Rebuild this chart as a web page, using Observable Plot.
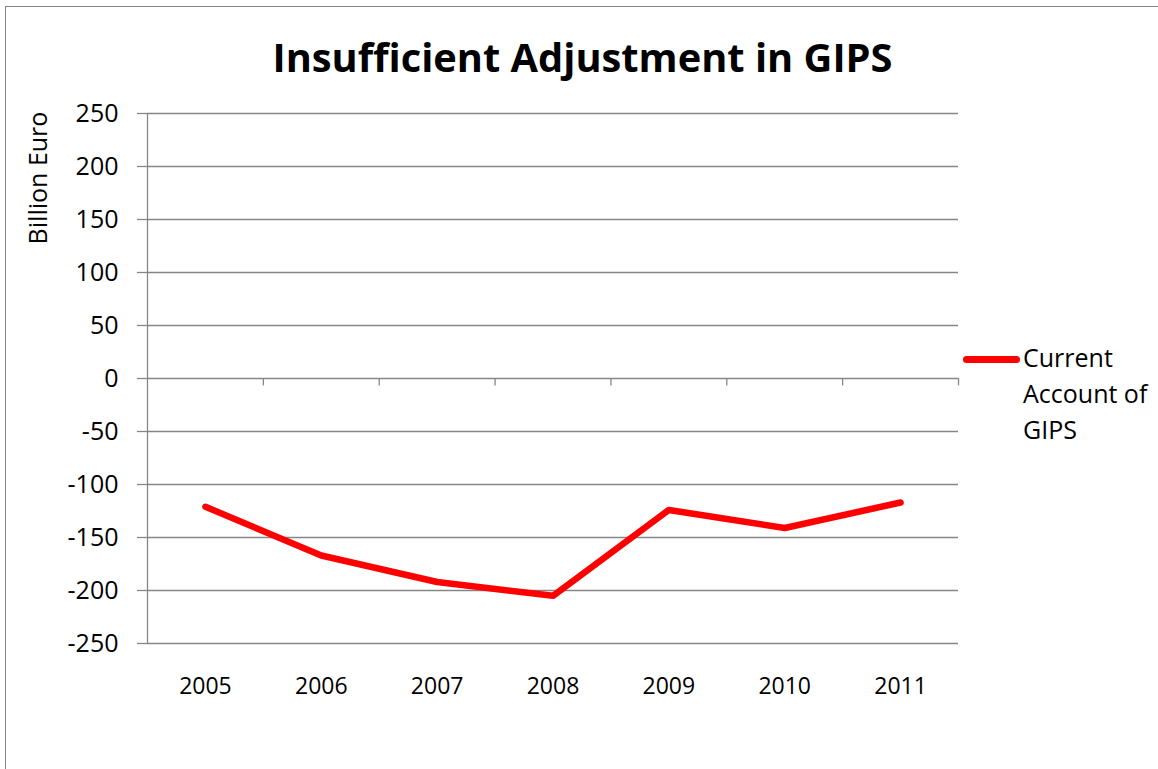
<!DOCTYPE html>
<html>
<head>
<meta charset="utf-8">
<script src="https://cdn.jsdelivr.net/npm/d3@7"></script>
<script src="https://cdn.jsdelivr.net/npm/@observablehq/plot@0.6"></script>
<style>
  html, body { margin: 0; padding: 0; background: #fff; overflow: hidden; }
  #wrap { position: relative; width: 1158px; height: 769px; overflow: hidden; font-family: "Open Sans", sans-serif; }
  #frame { position: absolute; left: 5px; top: 6px; width: 1200px; height: 800px; border: 1.3px solid #868686; box-sizing: border-box; }
  #title { position: absolute; left: 0; width: 1165px; top: 37px; text-align: center; font-size: 39.8px; line-height: 39px; font-weight: bold; color: #000; }
  #ylabel { position: absolute; left: 37px; top: 178px; transform: translate(-50%, -50%) rotate(-90deg); font-size: 25px; line-height: 25px; white-space: nowrap; color: #000; }
  #legend { position: absolute; left: 963px; top: 339px; }
  #legend .sw { position: absolute; left: 0; top: 17px; width: 57px; height: 7px; border-radius: 4px; background: #ff0000; }
  #legend .tx { position: absolute; left: 60px; top: 0; font-size: 25px; line-height: 36px; white-space: nowrap; color: #000; }
  #chart { position: absolute; left: 0; top: 0; }
</style>
</head>
<body>
<div id="wrap">
  <div id="frame"></div>
  <div id="chart"></div>
  <div id="title">Insufficient Adjustment in GIPS</div>
  <div id="ylabel">Billion Euro</div>
  <div id="legend"><div class="sw"></div><div class="tx">Current<br>Account of<br>GIPS</div></div>
</div>
<script>
const years = [2005, 2006, 2007, 2008, 2009, 2010, 2011];
const currentAccount = [-121, -167, -192, -205, -124, -141, -117];
const yTicks = [-250, -200, -150, -100, -50, 0, 50, 100, 150, 200, 250];
const categoryBoundaries = [2005.5, 2006.5, 2007.5, 2008.5, 2009.5, 2010.5, 2011.5];

const data = years.map((y, i) => ({year: y, value: currentAccount[i]}));
const grey = "#868686";

const chart = Plot.plot({
  width: 1158,
  height: 769,
  marginLeft: 147,
  marginRight: 200,
  marginTop: 113,
  marginBottom: 126,
  style: {fontFamily: "'Open Sans', sans-serif", background: "transparent", overflow: "visible"},
  x: {type: "linear", domain: [2004.5, 2011.5]},
  y: {domain: [-250, 250]},
  marks: [
    Plot.gridY(yTicks, {stroke: grey, strokeOpacity: 1, strokeWidth: 1.3}),
    Plot.ruleX([2004.5], {stroke: grey, strokeWidth: 1.3}),
    Plot.ruleX(categoryBoundaries, {y1: 0, y2: -7, stroke: grey, strokeWidth: 1.3}),
    Plot.axisY({ticks: yTicks, tickSize: 10, tickPadding: 19, fontSize: 25, stroke: grey, strokeWidth: 1.3, fill: "#000", label: null, tickFormat: d => String(d)}),
    Plot.axisX({ticks: years, tickSize: 0, tickPadding: 34, fontSize: 23, fill: "#000", label: null, tickFormat: d => String(d)}),
    Plot.line(data, {x: "year", y: "value", stroke: "#ff0000", strokeWidth: 6.5, strokeLinecap: "round", strokeLinejoin: "round"})
  ]
});
document.getElementById("chart").appendChild(chart);
</script>
</body>
</html>
